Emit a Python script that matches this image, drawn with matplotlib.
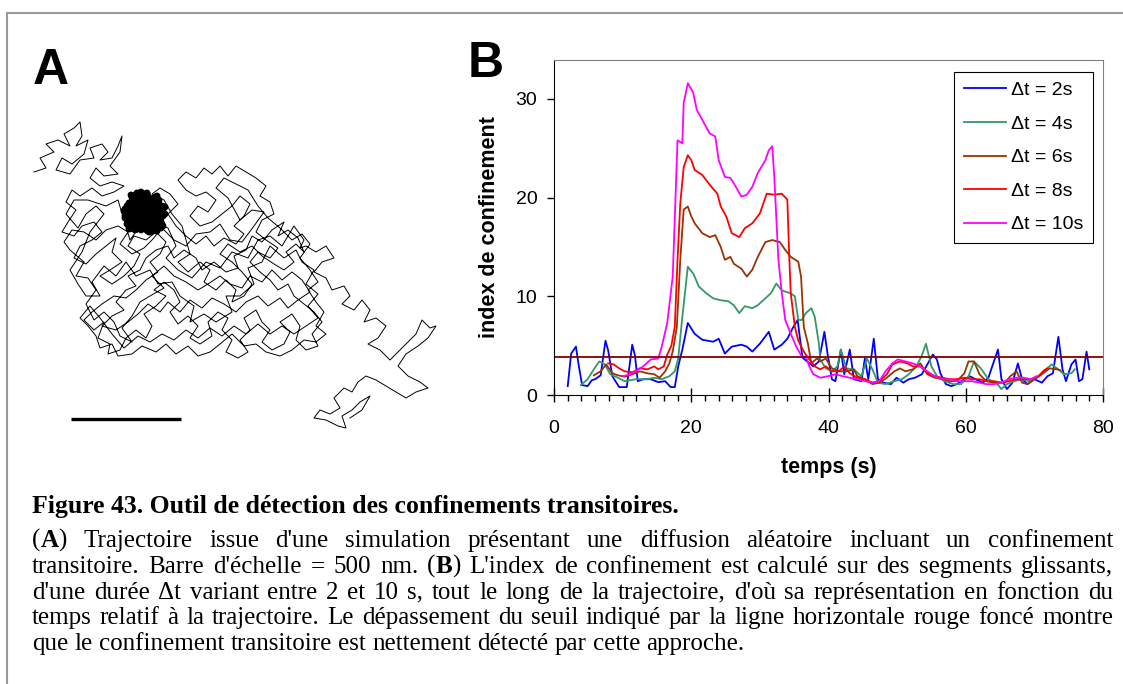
import matplotlib
matplotlib.use('Agg')
import matplotlib.pyplot as plt
from matplotlib.lines import Line2D
from matplotlib.ticker import MultipleLocator

plt.rcParams['font.family'] = ['Liberation Sans', 'DejaVu Sans']
SERIF = ['Liberation Serif', 'DejaVu Serif']

# ---- panel B: confinement index vs time, one series per window length ----
t_2s = [2.0, 2.5, 3.2, 3.6, 4.1, 4.9, 5.5, 6.0, 6.8, 7.5, 7.9, 8.5, 9.5, 10.6, 11.4, 11.8,
        12.2, 13.0, 14.1, 15.2, 16.2, 17.0, 17.6, 18.1, 18.7, 19.5, 20.5, 21.6, 23.2, 24.0,
        24.9, 25.9, 27.3, 28.1, 28.9, 30.0, 31.3, 32.1, 33.2, 34.0, 34.8, 35.5, 36.2, 36.7,
        37.8, 38.6, 39.4, 39.9, 40.5, 41.0, 41.8, 42.3, 43.1, 43.7, 44.8, 45.3, 45.8, 46.6,
        47.2, 48.0, 49.1, 49.9, 50.9, 51.7, 52.6, 53.6, 54.4, 55.2, 55.8, 56.3, 57.1, 57.9,
        58.7, 59.8, 60.6, 61.4, 62.5, 63.3, 64.1, 64.7, 65.2, 66.0, 66.8, 67.6, 68.2, 69.0,
        70.0, 71.1, 71.9, 72.7, 73.5, 74.1, 74.6, 75.4, 76.0, 76.5, 77.0, 77.6, 78.0]
idx_2s = [0.9, 4.2, 4.9, 3.0, 1.0, 0.9, 1.5, 1.6, 2.0, 5.5, 4.5, 1.9, 0.8, 0.8, 5.1, 4.0,
          1.4, 1.6, 1.6, 1.3, 1.4, 0.8, 0.8, 2.9, 4.6, 7.3, 6.2, 5.6, 5.4, 5.7,
          4.2, 4.9, 5.1, 4.9, 4.4, 5.2, 6.4, 4.6, 5.1, 5.7, 6.8, 7.6, 3.8, 3.5,
          2.9, 3.4, 6.4, 4.0, 1.6, 1.4, 4.6, 2.1, 4.6, 1.6, 1.4, 3.7, 1.6, 5.7,
          1.6, 1.25, 1.1, 1.75, 1.25, 1.6, 1.75, 2.1, 3.1, 4.1, 3.6, 2.2, 1.1, 0.9,
          1.1, 1.6, 1.9, 1.6, 1.25, 1.75, 3.4, 4.6, 1.6, 0.6, 1.25, 3.2, 1.6, 1.1,
          1.6, 1.25, 1.9, 2.2, 5.9, 2.6, 1.4, 3.1, 3.6, 1.4, 1.6, 4.4, 2.6]

t_4s = [3.9, 4.9, 5.8, 6.6, 7.4, 8.2, 9.3, 10.3, 11.9, 13.6, 14.6, 15.7, 16.8, 17.6, 18.1,
        18.7, 19.5, 20.3, 21.1, 22.2, 23.2, 24.3, 25.4, 26.2, 27.0, 27.8, 28.9, 29.7, 30.8,
        31.6, 32.4, 33.2, 34.5, 35.1, 35.6, 36.1, 36.7, 37.5, 38.0, 38.6, 38.8, 39.6, 40.5,
        41.3, 41.8, 42.6, 43.7, 44.8, 45.6, 46.4, 47.2, 48.3, 49.6, 50.7, 51.7, 52.8, 53.6,
        54.2, 55.0, 55.8, 56.9, 58.2, 59.3, 60.4, 61.2, 62.2, 63.3, 64.4, 65.2, 66.0, 67.1,
        68.2, 69.2, 70.3, 71.4, 72.5, 73.5, 74.3, 75.4, 75.9]
idx_4s = [1.0, 1.6, 2.6, 3.4, 3.1, 2.1, 1.75, 1.4, 1.6, 1.6, 1.75, 1.6, 1.9, 2.4, 3.7,
          7.9, 13.0, 12.3, 11.0, 10.3, 9.8, 9.6, 9.5, 9.1, 8.3, 9.0, 8.8, 9.1, 9.8,
          10.3, 11.3, 10.6, 10.3, 10.0, 7.6, 7.6, 8.3, 8.8, 7.9, 5.2, 3.6, 2.7, 2.4,
          2.9, 4.6, 2.7, 2.6, 1.9, 3.7, 2.6, 1.25, 1.1, 1.4, 1.6, 2.1, 2.9, 4.0,
          5.2, 2.9, 1.9, 1.4, 1.1, 1.1, 1.9, 3.4, 2.7, 1.6, 1.25, 0.6, 1.1, 1.4,
          1.6, 1.4, 1.75, 2.4, 3.1, 2.6, 2.1, 2.2, 2.6]

t_6s = [5.8, 6.8, 7.6, 8.5, 9.3, 10.3, 11.4, 12.5, 13.6, 14.6, 15.4, 16.2, 16.8, 17.3, 17.9,
        18.4, 18.9, 19.5, 20.0, 20.5, 21.6, 22.7, 23.5, 24.3, 24.9, 25.7, 26.2, 27.3, 28.1,
        28.9, 29.7, 30.8, 31.8, 32.9, 33.7, 34.5, 35.6, 36.0, 36.4, 37.0, 37.5, 38.3, 38.8,
        39.6, 40.5, 41.5, 42.6, 43.7, 44.2, 45.3, 46.4, 47.4, 48.5, 49.6, 50.4, 51.2, 52.3,
        53.4, 54.4, 55.5, 56.6, 57.7, 58.7, 59.8, 60.4, 61.2, 62.0, 63.0, 64.1, 65.7, 66.5,
        67.4, 68.2, 69.0, 70.0, 71.1, 72.2, 73.3, 73.8]
idx_6s = [2.0, 2.4, 3.1, 2.2, 2.0, 1.85, 2.1, 2.4, 2.2, 2.1, 1.75, 2.4, 3.2, 4.4, 6.9,
          13.7, 18.8, 19.1, 18.1, 17.4, 16.4, 16.0, 16.2, 15.0, 13.7, 14.0, 13.3, 12.8, 12.0,
          12.7, 14.0, 15.5, 15.7, 15.5, 14.7, 14.0, 13.5, 12.0, 6.9, 5.2, 3.2, 3.7, 3.4,
          3.7, 2.7, 2.4, 2.4, 2.6, 1.9, 1.6, 1.1, 1.25, 1.75, 2.4, 2.7, 2.4, 2.6,
          3.2, 2.1, 1.75, 1.6, 1.4, 1.4, 2.2, 3.4, 3.4, 2.1, 1.4, 1.25, 1.25, 1.9,
          2.4, 1.25, 1.1, 1.6, 2.1, 2.7, 2.6, 2.5]

t_8s = [7.9, 8.7, 9.5, 10.3, 11.4, 12.5, 13.6, 14.6, 15.2, 16.0, 16.5, 17.1, 17.6, 18.0, 18.4,
        18.9, 19.5, 20.0, 20.5, 21.6, 22.7, 23.8, 24.3, 25.1, 25.9, 27.0, 27.8, 28.9, 30.0,
        31.0, 32.1, 33.2, 34.0, 34.3, 34.5, 35.1, 35.6, 36.4, 37.2, 38.0, 38.8, 39.6, 40.5,
        41.5, 42.3, 43.1, 44.2, 45.3, 46.4, 47.4, 48.5, 49.3, 50.4, 51.5, 52.3, 53.4, 54.4,
        55.5, 56.6, 57.7, 58.7, 59.8, 60.9, 62.0, 63.0, 64.1, 65.2, 66.3, 67.4, 68.4, 69.5,
        70.6, 71.4, 71.9]
idx_8s = [3.2, 3.1, 2.7, 2.4, 2.3, 2.7, 2.6, 2.9, 2.6, 2.9, 4.1, 5.0, 6.9, 13.7, 19.4,
          23.1, 24.3, 23.8, 22.8, 22.3, 21.3, 20.4, 19.1, 18.1, 16.4, 16.0, 16.9, 17.4, 18.4,
          20.4, 20.3, 20.4, 19.8, 13.7, 10.3, 6.9, 5.5, 4.4, 3.6, 2.9, 2.6, 2.9, 2.4,
          2.4, 2.9, 2.2, 1.75, 1.6, 1.25, 1.4, 2.1, 3.1, 3.4, 3.2, 2.9, 2.9, 2.2,
          1.9, 1.75, 1.6, 1.6, 1.75, 1.6, 1.6, 1.4, 1.4, 1.25, 1.4, 1.6, 1.6, 1.6,
          1.9, 2.5, 2.7]

t_10s = [10.1, 11.1, 11.9, 13.0, 14.1, 15.2, 15.7, 16.5, 17.3, 18.0, 18.7, 18.9, 19.5, 20.3,
         20.8, 21.6, 22.7, 23.5, 24.0, 24.9, 25.7, 26.5, 27.3, 28.1, 28.9, 29.7, 30.8, 31.3,
         31.8, 32.1, 32.7, 33.2, 33.7, 34.5, 35.3, 36.1, 36.7, 37.2, 37.8, 38.8, 39.9, 41.0,
         42.1, 43.1, 44.2, 45.3, 46.4, 47.4, 48.3, 49.3, 50.1, 51.2, 52.3, 53.4, 54.4, 55.5,
         56.6, 57.7, 58.7, 59.8, 60.9, 62.0, 63.0, 64.1, 65.2, 66.3, 67.4, 68.4, 69.5, 70.3]
idx_10s = [1.9, 2.1, 2.4, 2.9, 3.6, 3.7, 4.9, 7.3, 12.0, 25.8, 25.5, 29.6, 31.6, 30.6,
           28.9, 27.9, 26.5, 26.2, 23.8, 22.1, 22.0, 21.1, 20.1, 20.3, 21.1, 22.5, 23.8, 24.8,
           25.2, 22.1, 13.7, 10.3, 7.6, 6.2, 4.9, 3.9, 3.9, 2.9, 2.1, 1.75, 1.9, 2.1,
           1.9, 1.75, 1.6, 1.4, 1.25, 1.4, 2.4, 3.2, 3.6, 3.4, 3.2, 2.9, 2.4, 1.9,
           1.6, 1.6, 1.4, 1.4, 1.4, 1.25, 1.1, 1.1, 1.25, 1.6, 1.75, 1.75, 1.6, 1.9]

series_labels = ['Δt = 2s', 'Δt = 4s', 'Δt = 6s', 'Δt = 8s', 'Δt = 10s']
series_colors = ['#0000FF', '#339966', '#993300', '#FF0000', '#FF00FF']
threshold = 3.9

# ---- panel A: simulated trajectory (reference pixel units, scale bar = 500 nm) ----
traj_pts = [
    # top-left excursion
    (34, 172), (46, 168), (40, 158), (54, 152), (46, 144), (58, 140), (70, 146), (64, 134),
    (74, 128), (80, 122), (82, 136), (76, 146), (88, 140), (84, 154), (72, 164), (62, 158),
    (56, 170), (70, 174), (80, 160), (94, 158), (90, 148), (102, 144), (108, 152), (100, 160),
    (112, 158), (118, 146), (122, 136), (120, 152), (110, 166), (118, 174), (104, 176),
    (96, 168), (90, 178), (100, 186), (112, 182), (124, 186),
    # main body, first pass
    (114, 192), (102, 196), (92, 188), (80, 196), (72, 190), (66, 202), (76, 210), (68, 222),
    (62, 232), (74, 236), (82, 226), (94, 222), (102, 232), (92, 240), (80, 246), (74, 258),
    (86, 264), (96, 254), (106, 246), (116, 238), (112, 252), (122, 262), (110, 270),
    (100, 276), (112, 284), (124, 276), (134, 266), (140, 254), (128, 246), (134, 236),
    (146, 240), (156, 232), (166, 242), (160, 254), (150, 262), (158, 272), (146, 280),
    (136, 290), (126, 298), (114, 296), (102, 304), (92, 312), (84, 320), (94, 330),
    (104, 322), (98, 338), (110, 344), (108, 354), (120, 350), (126, 338), (136, 330),
    (146, 338), (152, 326), (144, 314), (156, 306), (166, 296), (154, 290), (164, 282),
    (174, 290), (180, 302), (170, 312), (178, 324), (188, 316), (198, 326), (190, 338),
    (200, 344), (212, 336), (208, 322), (218, 312), (228, 318), (222, 330), (232, 340),
    (226, 352), (238, 358), (248, 352), (240, 340), (250, 330), (244, 318), (256, 310),
    (262, 322), (270, 330), (262, 342), (272, 350), (284, 344), (290, 332), (280, 322),
    (292, 314), (300, 326), (296, 340), (306, 350), (318, 346), (312, 334), (322, 322),
    (314, 312), (304, 304), (294, 296), (288, 284), (278, 290), (270, 280), (260, 272),
    (250, 262), (258, 252), (270, 258), (278, 248), (266, 240), (256, 232), (262, 220),
    (274, 214), (270, 202), (260, 196), (266, 186), (256, 178), (246, 172), (236, 166),
    (228, 176), (220, 166), (212, 174), (204, 168), (196, 178), (186, 172), (178, 180),
    (186, 190), (196, 196), (206, 192), (216, 200), (208, 212), (198, 206), (190, 216),
    (200, 226), (212, 222), (222, 214), (232, 206), (240, 196), (250, 204), (244, 216),
    (234, 226), (244, 234), (236, 244), (224, 238), (214, 246), (206, 236), (196, 244),
    (186, 236), (176, 226), (168, 214), (178, 204), (170, 194), (160, 188), (152, 194),
    (164, 200), (172, 214), (182, 226), (190, 254), (178, 262), (188, 272), (200, 262),
    (210, 270), (204, 282), (216, 290), (226, 280), (236, 290), (232, 302), (244, 296),
    (252, 284), (242, 272), (232, 262), (220, 254), (228, 244), (240, 252), (252, 246),
    (262, 256), (274, 264), (284, 270), (294, 262), (286, 252), (296, 244), (304, 252),
    (298, 238), (288, 230),
    # main body, second pass
    (278, 236), (284, 222), (272, 230), (262, 242), (252, 236), (246, 250), (234, 256),
    (238, 268), (226, 272), (214, 262), (202, 270), (196, 258), (184, 250), (174, 258),
    (168, 246), (156, 250), (146, 258), (140, 270), (128, 276), (136, 286), (126, 290),
    (116, 302), (124, 310), (112, 316), (102, 326), (116, 330), (128, 322), (138, 314),
    (148, 304), (160, 312), (168, 302), (180, 312), (190, 300), (202, 308), (212, 298),
    (224, 304), (236, 312), (246, 302), (258, 296), (268, 306), (280, 298), (288, 308),
    (298, 300), (310, 292), (302, 280), (292, 272), (282, 280), (272, 270), (262, 282),
    (250, 276), (242, 288), (230, 284), (220, 276), (208, 284), (198, 290), (186, 282),
    (174, 276), (164, 266), (152, 276), (164, 288), (150, 296), (140, 302), (132, 316),
    (122, 328), (132, 342), (120, 336), (114, 322), (104, 312), (94, 320), (86, 304),
    (96, 290), (88, 278), (76, 276), (84, 262), (70, 250), (64, 242), (72, 230), (84, 232),
    (96, 240), (106, 230), (118, 226), (128, 232), (120, 244), (132, 254), (144, 248),
    (152, 240), (162, 228), (174, 240), (186, 246), (196, 234), (210, 232), (220, 224),
    (230, 240), (242, 242), (254, 226), (264, 212), (252, 210), (240, 220), (228, 198),
    (216, 188), (224, 178), (236, 184), (248, 190), (258, 206), (268, 218), (280, 228),
    (292, 240), (302, 234), (310, 244), (300, 258), (310, 270), (318, 282), (308, 290),
    (316, 302), (324, 312), (316, 326), (326, 334), (316, 342), (304, 340), (292, 350),
    (280, 356), (266, 352), (256, 344), (244, 346), (232, 334), (220, 344), (210, 352),
    (198, 356), (188, 346), (176, 354), (166, 344), (156, 352), (142, 346), (132, 354),
    (118, 356), (112, 344), (100, 348), (96, 336), (88, 326), (80, 318), (90, 306),
    (100, 318), (112, 334), (124, 348), (138, 336), (150, 342), (162, 334), (174, 340),
    (186, 330), (198, 338), (210, 328), (222, 336), (234, 326), (246, 334), (258, 324),
    (270, 334), (282, 326), (294, 334), (306, 326), (318, 318), (308, 306), (318, 294),
    (306, 284), (314, 270), (302, 262), (296, 250),
    # main body, third pass with longer diagonal hops
    (284, 258), (270, 246), (262, 262), (248, 268), (254, 284), (240, 296), (226, 296),
    (232, 312), (216, 322), (204, 314), (190, 322), (194, 306), (180, 296), (172, 282),
    (158, 284), (150, 270), (136, 276), (126, 262), (116, 276), (104, 266), (92, 282),
    (100, 296), (86, 296), (78, 284), (70, 270), (82, 252), (90, 232), (104, 214),
    (96, 206), (86, 214), (78, 228), (66, 214), (74, 200), (88, 200), (106, 206),
    (118, 200), (130, 240), (140, 226), (152, 222), (168, 228), (176, 246), (166, 258),
    (178, 270), (192, 278), (206, 262), (220, 268), (232, 252), (248, 258), (258, 240),
    (270, 236), (282, 246), (294, 226), (304, 240), (300, 248),
    # tail towards the lower right
    (306, 246), (316, 252), (326, 246), (334, 258), (322, 262), (314, 272), (326, 278),
    (332, 290), (344, 286), (350, 296), (342, 304), (354, 310), (362, 300), (370, 310),
    (364, 322), (376, 318), (386, 326), (378, 338), (368, 344), (380, 350), (390, 360),
    (398, 352), (408, 342), (416, 334), (422, 320), (430, 328), (436, 326), (428, 338),
    (418, 346), (406, 354), (398, 366), (408, 376), (420, 382), (428, 388), (416, 392),
    (406, 398), (396, 392), (386, 386), (376, 380), (366, 376), (358, 382), (352, 392),
    (344, 388), (334, 398), (340, 408), (330, 414), (320, 410), (314, 418), (326, 420),
    (338, 426), (346, 428), (342, 416), (352, 410), (360, 402), (370, 396), (362, 410),
    (350, 418),
]
blob_pts = [
    (127, 206), (161, 218), (131, 226), (157, 196), (125, 216), (163, 226), (137, 193),
    (151, 232), (124, 211), (165, 207), (133, 198), (147, 230), (129, 203), (161, 222),
    (141, 192), (155, 220), (129, 229), (159, 200), (135, 216), (165, 214), (131, 195),
    (149, 232), (125, 209), (161, 228), (143, 198), (153, 214), (135, 230), (161, 206),
    (125, 218), (147, 193), (157, 231), (127, 224), (163, 216), (139, 202), (151, 224),
    (131, 212), (159, 212), (141, 230), (149, 200), (137, 222), (145, 212), (155, 206),
    (133, 220), (147, 218), (141, 206),
]
scale_bar_x = [71, 181]
scale_bar_y = [419, 419]

# ---- caption ----
caption_title = 'Figure 43. Outil de détection des confinements transitoires.'
caption_lines = [
    "(*A*) Trajectoire issue d'une simulation présentant une diffusion aléatoire incluant un confinement",
    "transitoire. Barre d'échelle = 500 nm. (*B*) L'index de confinement est calculé sur des segments glissants,",
    "d'une durée Δt variant entre 2 et 10 s, tout le long de la trajectoire, d'où sa représentation en fonction du",
    "temps relatif à la trajectoire. Le dépassement du seuil indiqué par la ligne horizontale rouge foncé montre",
    "que le confinement transitoire est nettement détecté par cette approche.",
]
TITLE_SIZE = 18.5
CAPTION_SIZE = 18

W, H = 1123, 684
fig = plt.figure(figsize=(W / 100, H / 100), dpi=100)


def fx(x):
    return x / W


def fy(y):
    return 1 - y / H


# page frame (left and top rules)
fig.add_artist(Line2D([fx(7), fx(7)], [0, fy(13)], transform=fig.transFigure, color='#9a9a9a', lw=1.5))
fig.add_artist(Line2D([fx(7), 1], [fy(13), fy(13)], transform=fig.transFigure, color='#9a9a9a', lw=1.5))

# panel A
ax_a = fig.add_axes([0, fy(460), fx(480), fy(100) - fy(460)])
ax_a.set_xlim(0, 480)
ax_a.set_ylim(460, 100)
ax_a.axis('off')
tx, ty = zip(*traj_pts)
ax_a.plot(tx, ty, color='black', lw=0.7)
bx, by = zip(*blob_pts)
ax_a.plot(bx, by, color='black', lw=5.0, solid_joinstyle='round', solid_capstyle='round')
ax_a.plot(scale_bar_x, scale_bar_y, color='black', lw=2.4, solid_capstyle='butt')

fig.text(fx(33), fy(84), 'A', fontsize=36, weight='bold', va='baseline')
fig.text(fx(468), fy(77), 'B', fontsize=36, weight='bold', va='baseline')

# panel B
ax = fig.add_axes([fx(554), fy(395), fx(1103) - fx(554), fy(59.5) - fy(395)])
times = [t_2s, t_4s, t_6s, t_8s, t_10s]
values = [idx_2s, idx_4s, idx_6s, idx_8s, idx_10s]
for t, v, lab, col in zip(times, values, series_labels, series_colors):
    ax.plot(t, v, color=col, lw=1.3, label=lab)
ax.axhline(threshold, color='#800000', lw=1.3)

ax.set_xlim(0, 80)
ax.set_ylim(0, 34)
ax.xaxis.set_major_locator(MultipleLocator(20))
ax.xaxis.set_minor_locator(MultipleLocator(2))
ax.yaxis.set_major_locator(MultipleLocator(10))
ax.tick_params(axis='x', which='major', direction='inout', length=10, width=1, pad=13, labelsize=14)
ax.tick_params(axis='x', which='minor', direction='out', length=4.3, width=1)
ax.tick_params(axis='y', which='major', direction='out', length=5, width=1, pad=7, labelsize=14)
for side in ('top', 'right'):
    ax.spines[side].set_color('#808080')
for side in ('left', 'bottom'):
    ax.spines[side].set_color('black')

ax.set_xlabel('temps (s)', fontsize=15.5, weight='bold')
ax.xaxis.set_label_coords(0.5, -0.185)
ax.set_ylabel('index de confinement', fontsize=15.5, weight='bold')
ax.yaxis.set_label_coords(-0.098, 0.5)

leg = ax.legend(loc='upper right', bbox_to_anchor=(0.982, 0.963), borderaxespad=0,
                fontsize=14, frameon=True, fancybox=False, framealpha=1,
                edgecolor='black', handlelength=2.15, handletextpad=0.26,
                labelspacing=0.82, borderpad=0.5)
leg.get_frame().set_linewidth(0.8)

# caption, justified like the source document
renderer = fig.canvas.get_renderer()
left, right = 32, 1113


def text_width(s, bold=False):
    t = fig.text(0, 0, s, fontsize=CAPTION_SIZE, family=SERIF, weight='bold' if bold else 'normal')
    w = t.get_window_extent(renderer).width
    t.remove()
    return w


space = text_width('a a') - text_width('aa')


def runs(word):
    parts = word.split('*')
    return [(p, i % 2 == 1) for i, p in enumerate(parts) if p]


def draw_line(line, y, justify):
    word_runs = [runs(w) for w in line.split(' ')]
    widths = [sum(text_width(s, b) for s, b in r) for r in word_runs]
    gap = (right - left - sum(widths)) / (len(widths) - 1) if justify else space
    x = left
    for r, w in zip(word_runs, widths):
        xx = x
        for s, b in r:
            fig.text(fx(xx), fy(y), s, fontsize=CAPTION_SIZE, family=SERIF,
                     weight='bold' if b else 'normal', va='baseline')
            xx += text_width(s, b)
        x += w + gap


fig.text(fx(left), fy(513), caption_title, fontsize=TITLE_SIZE, family=SERIF,
         weight='bold', va='baseline')
for i, line in enumerate(caption_lines):
    draw_line(line, 547 + 25.8 * i, i < len(caption_lines) - 1)

fig.savefig('out.png', dpi=100)
